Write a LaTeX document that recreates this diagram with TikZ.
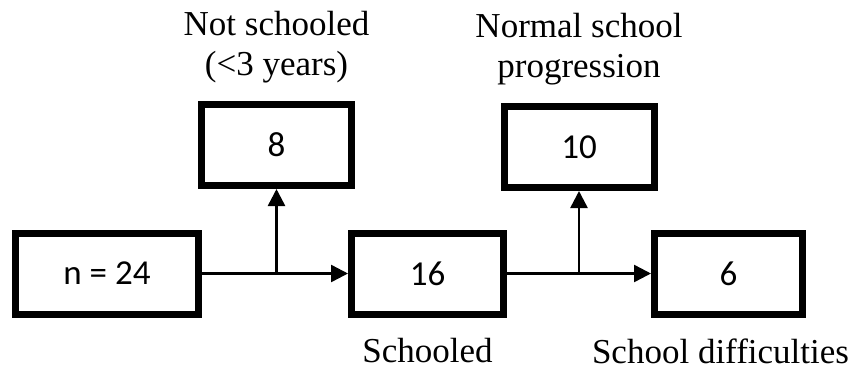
\documentclass[tikz,border=0pt]{standalone}
\usepackage{fontspec}
\setmainfont{Liberation Serif}
\newfontfamily\boxfont{Carlito}
\usepackage{tikz}
\usetikzlibrary{arrows.meta, positioning}

\begin{document}
\begin{tikzpicture}[x=1pt, y=1pt,
    box/.style={draw, line width=7pt, minimum width=150pt, minimum height=81pt, inner sep=0pt, font=\boxfont\fontsize{35}{40}\selectfont},
    arrow/.style={-{Triangle[length=17pt, width=17pt]}, line width=2.5pt},
    note/.style={font=\fontsize{35}{40}\selectfont, align=center, inner sep=0pt}
]
    \useasboundingbox (0,0) rectangle (860,-373);

    % Main line
    \node[box, minimum width=183pt] (start) at (107,-273.5) {n = 24};
    \node[box, minimum width=152pt] (school) at (427.5,-273.5) {16};
    \node[box, minimum width=148pt] (diff) at (728.5,-273.5) {6};

    % Branches
    \node[box] (not) at (276.5,-145) {8};
    \node[box] (normal) at (579,-147) {10};

    \coordinate (split1) at (not |- start);
    \coordinate (split2) at (normal |- school);

    \draw[arrow] (start) -- (school);
    \draw[arrow] (school) -- (diff);
    \draw[arrow] (split1) -- (not);
    \draw[arrow] (split2) -- (normal);

    \node[note, above=18pt of not] (lnot) {Not schooled\\(<3 years)};
    \node[note, above=18pt of normal] (lnormal) {Normal school\\progression};
    \node[note, below=21pt of school] (lschool) {Schooled};
    \node[note, below=21pt of diff, xshift=-8pt] (ldiff) {School difficulties};
\end{tikzpicture}
\end{document}
